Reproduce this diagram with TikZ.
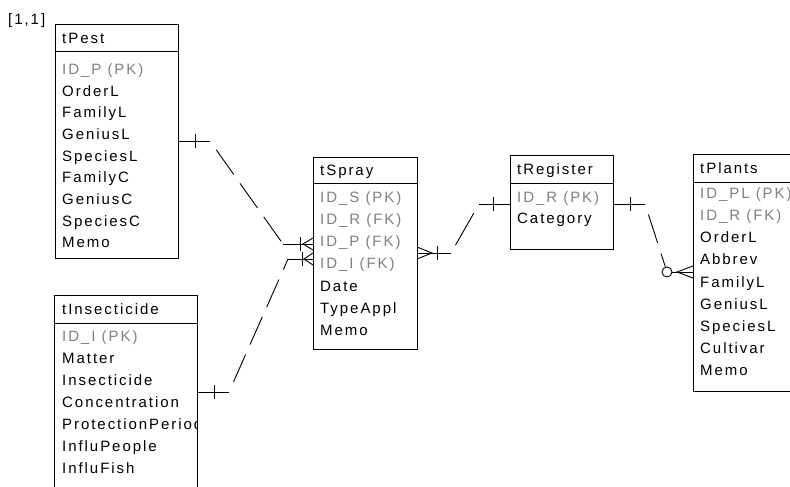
\documentclass[tikz,border=0pt]{standalone}
\usepackage{fontspec}
\setmainfont{Liberation Sans}[LetterSpace=13]
\usetikzlibrary{calc}
\definecolor{keygray}{RGB}{128,128,128}
\begin{document}
\begin{tikzpicture}[x=1pt,y=-1pt,
  tbl/.style={draw, line width=1pt, inner sep=0pt, outer sep=0pt, anchor=north west},
  fld/.style={anchor=west, inner sep=0pt, text height=10.7pt, text depth=0pt, font=\fontsize{15}{18}\selectfont},
  keyf/.style={fld, text=keygray},
  conn/.style={line width=0.9pt},
  dashc/.style={conn, dash pattern=on 30pt off 11pt, dash phase=30pt},
  optc/.style={circle, draw, line width=0.9pt, minimum size=10pt, inner sep=0pt},
]
\useasboundingbox (0,0) rectangle (790,487);

\node[fld] (lbl) at (8,19) {[1,1]};

% ---------- tPest ----------
\node[tbl, minimum width=123pt, minimum height=233pt] (pest) at (55,25) {};
\draw[line width=1pt] ($(pest.north west)+(0,27)$) -- ($(pest.north east)+(0,27)$);
\node[fld] (pest-h) at (62,38) {tPest};
\node[keyf] (pest-1) at (62,69) {ID\_P (PK)};
\foreach \t [count=\i from 2] in {OrderL,FamilyL,GeniusL,SpeciesL,FamilyC,GeniusC,SpeciesC,Memo}
  \node[fld] (pest-\i) at (62,{69+21.7*(\i-1)}) {\t};

% ---------- tInsecticide ----------
\node[tbl, minimum width=143pt, minimum height=205pt] (ins) at (54,295) {};
\draw[line width=1pt] ($(ins.north west)+(0,28)$) -- ($(ins.north east)+(0,28)$);
\node[fld] (ins-h) at (62,309) {tInsecticide};
\begin{scope}
  \clip (54,296) rectangle (196.5,487);
  \node[keyf] (ins-1) at (62,336) {ID\_I (PK)};
  \foreach \t [count=\i from 2] in {Matter,Insecticide,Concentration,ProtectionPeriod,InfluPeople,InfluFish}
    \node[fld] (ins-\i) at (62,{336+22*(\i-1)}) {\t};
\end{scope}

% ---------- tSpray ----------
\node[tbl, minimum width=104pt, minimum height=192pt] (spray) at (313,157) {};
\draw[line width=1pt] ($(spray.north west)+(0,26)$) -- ($(spray.north east)+(0,26)$);
\node[fld] (spray-h) at (320,170) {tSpray};
\foreach \t [count=\i] in {ID\_S (PK),ID\_R (FK),ID\_P (FK),ID\_I (FK)}
  \node[keyf] (spray-\i) at (320,{197+22*(\i-1)}) {\t};
\foreach \t [count=\i from 5] in {Date,TypeAppl,Memo}
  \node[fld] (spray-\i) at (320,{197+22.2*(\i-1)}) {\t};

% ---------- tRegister ----------
\node[tbl, minimum width=103pt, minimum height=94pt] (reg) at (510,155) {};
\draw[line width=1pt] ($(reg.north west)+(0,28)$) -- ($(reg.north east)+(0,28)$);
\node[fld] (reg-h) at (517,169) {tRegister};
\node[keyf] (reg-1) at (517,197) {ID\_R (PK)};
\node[fld] (reg-2) at (517,218) {Category};

% ---------- tPlants ----------
\node[tbl, minimum width=120pt, minimum height=237pt] (plants) at (693,154) {};
\draw[line width=1pt] ($(plants.north west)+(0,28)$) -- ($(plants.north east)+(0,28)$);
\node[fld] (plants-h) at (700,168) {tPlants};
\foreach \t [count=\i] in {ID\_PL (PK),ID\_R (FK)}
  \node[keyf] (plants-\i) at (700,{193+22.2*(\i-1)}) {\t};
\foreach \t [count=\i from 3] in {OrderL,Abbrev,FamilyL,GeniusL,SpeciesL,Cultivar,Memo}
  \node[fld] (plants-\i) at (700,{193+22.2*(\i-1)}) {\t};

% ---------- connector tPest -> tSpray ----------
\coordinate (a1) at (210,141);
\coordinate (a2) at (283,244);
\draw[conn] (pest.east |- a1) -- (a1);
\draw[conn] (195,134) -- (195,148);
\draw[dashc] (a1) -- (a2);
\draw[conn] (a2) -- (spray.west |- a2);
\draw[conn] (300,237) -- (300,251);
\draw[conn] (spray.west |- 0,238) -- (303,244) -- (spray.west |- 0,250);

% ---------- connector tInsecticide -> tSpray ----------
\coordinate (b1) at (229,392);
\coordinate (b2) at (288,259);
\draw[conn] (ins.east |- b1) -- (b1);
\draw[conn] (214,385) -- (214,399);
\draw[dashc] (b1) -- (b2);
\draw[conn] (b2) -- (spray.west |- b2);
\draw[conn] (302,252) -- (302,266);
\draw[conn] (spray.west |- 0,253) -- (304,259) -- (spray.west |- 0,265);

% ---------- connector tSpray -> tRegister ----------
\coordinate (c0) at (432,253);
\coordinate (c1) at (451,253);
\coordinate (c2) at (479,204);
\draw[conn] (spray.east |- c1) -- (c1);
\draw[conn] (spray.east |- 0,247) -- (c0) -- (spray.east |- 0,259);
\draw[conn] (437,246) -- (437,260);
\draw[conn, dash pattern=on 0pt off 9pt on 37pt off 20pt] (c1) -- (c2);
\draw[conn] (c2) -- (reg.west |- c2);
\draw[conn] (493,197) -- (493,211);

% ---------- connector tRegister -> tPlants ----------
\coordinate (d1) at (645,204);
\node[optc] (opt) at (667,272) {};
\draw[conn] (reg.east |- d1) -- (d1);
\draw[conn] (630,197) -- (630,211);
\draw[dashc] (d1) -- (opt);
\draw[conn] (opt.east) -- (plants.west |- opt.east);
\draw[conn] (plants.west |- 0,266) -- (677,272) -- (plants.west |- 0,278);
\end{tikzpicture}
\end{document}
